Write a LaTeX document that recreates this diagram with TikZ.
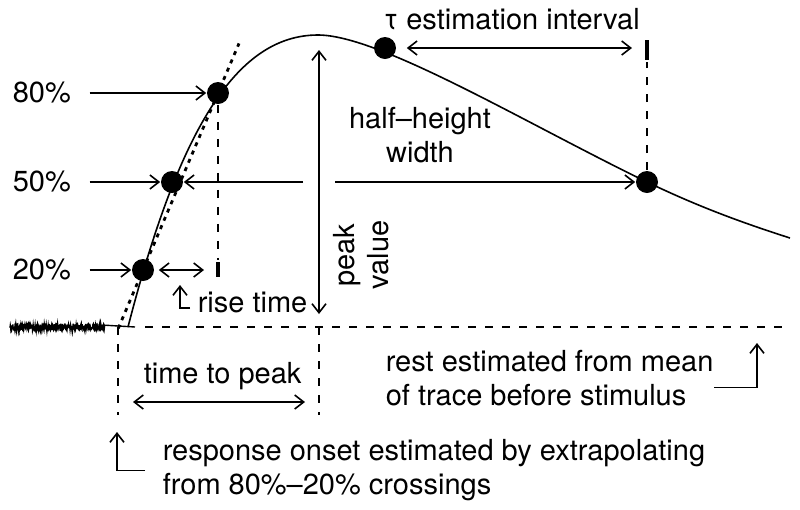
\documentclass[tikz,border=0pt]{standalone}
\usepackage{fontspec}
\setmainfont{TeX Gyre Heros}
\usetikzlibrary{arrows.meta,calc}

\begin{document}
\begin{tikzpicture}[x=0.5pt,y=-0.5pt,line width=0.8pt,
  >={Straight Barb[length=4.5pt,width=7pt]},
  dot/.style={circle,fill,inner sep=0pt,minimum size=11pt},
  lbl/.style={font=\fontsize{14.5}{17}\selectfont,inner sep=0pt},
  guide/.style={dash pattern=on 4pt off 4.5pt},
  tangent/.style={line width=1.4pt,dash pattern=on 2pt off 2.5pt},
  tick/.style={line width=1.8pt}]
\useasboundingbox (0,0) rectangle (800,510);
% Points on the response
\node[dot] (d20) at (143,270) {};
\node[dot] (d50) at (172,182) {};
\node[dot] (d80) at (218,93) {};
\node[dot] (dtau) at (385,48) {};
\node[dot] (dhalf) at (647,182) {};
\coordinate (onset) at (118,327);
\coordinate (peakbase) at (319,327);
% Trace before stimulus and response
\pgfmathsetseed{7}
\draw[line width=0.7pt] plot[domain=10:105,samples=300] (\x,{327+3.6*rand}) -- (135,327);
\draw (128,327) .. controls (178,133) and (235,35) .. (318,35)
  .. controls (380,35) and (527,124) .. (647,182)
  .. controls (697,206) and (740,222) .. (790,238);
% Extrapolated line through 20% and 80%
\draw[tangent] ($(d20)!-0.33!(d80)$) -- ($(d80)!-0.28!(d20)$);
% Rest level and guides
\draw[guide] (145,327) -- (785,327);
\draw[guide] (onset) -- ++(0,88);
\draw[guide] (peakbase) -- ++(0,88);
\draw[guide] (d80) -- (218,260);
\draw[tick] (218,262) -- (218,277);
\draw[guide] (dhalf) -- (647,62);
\draw[tick] (647,40) -- (647,60);
% Percent levels
\node[lbl,anchor=west] (p80) at (12,93) {80\%};
\node[lbl,anchor=west] (p50) at (12,182) {50\%};
\node[lbl,anchor=west] (p20) at (12,270) {20\%};
\draw[->] ([xshift=9pt]p80.east) -- (d80);
\draw[->] ([xshift=9pt]p50.east) -- (d50);
\draw[->] ([xshift=9pt]p20.east) -- (d20);
% Rise time
\draw[<->] ([xshift=2pt]d20.east) -- (204,270);
\node[lbl,anchor=base west] (rise) at (197,312) {rise time};
\coordinate (risemark) at (180,285);
\draw[->] ([xshift=-3.5pt,yshift=-3pt]rise.west) -| (risemark);
% Half-height width
\coordinate (hwl) at (303,182);
\coordinate (hwr) at (335,182);
\draw[->] (hwl) -- (d50);
\draw[->] (hwr) -- (dhalf);
\node[lbl,align=center] (hhw) at (420,135) {half--height\\width};
% Peak value
\coordinate (pvtop) at (319,50);
\coordinate (pvbot) at (319,314);
\draw[<->] (pvbot) -- (pvtop);
\node[lbl,rotate=90,align=center] (pv) at (361,255) {peak\\value};
% Tau interval
\node[lbl,anchor=base west] (tau) at (383,29) {τ estimation interval};
\draw[<->] ([xshift=5pt]dtau.east) -- (632,48);
% Time to peak
\draw[<->] (133,402) -- (305,402);
\node[lbl,anchor=base west] (ttp) at (143,383) {time to peak};
% Rest
\node[lbl,align=left,anchor=north west] (rest) at (385,349) {rest estimated from mean\\of trace before stimulus};
\coordinate (restmark) at (757,343);
\draw[->] ([yshift=-5pt]rest.east) -| (restmark);
% Onset
\node[lbl,align=left,anchor=north west] (ons) at (162,439) {response onset estimated by extrapolating\\from 80\%--20\% crossings};
\coordinate (onsmark) at (117,432);
\draw[->] ([xshift=-8.5pt]ons.west) -| (onsmark);
\end{tikzpicture}
\end{document}
